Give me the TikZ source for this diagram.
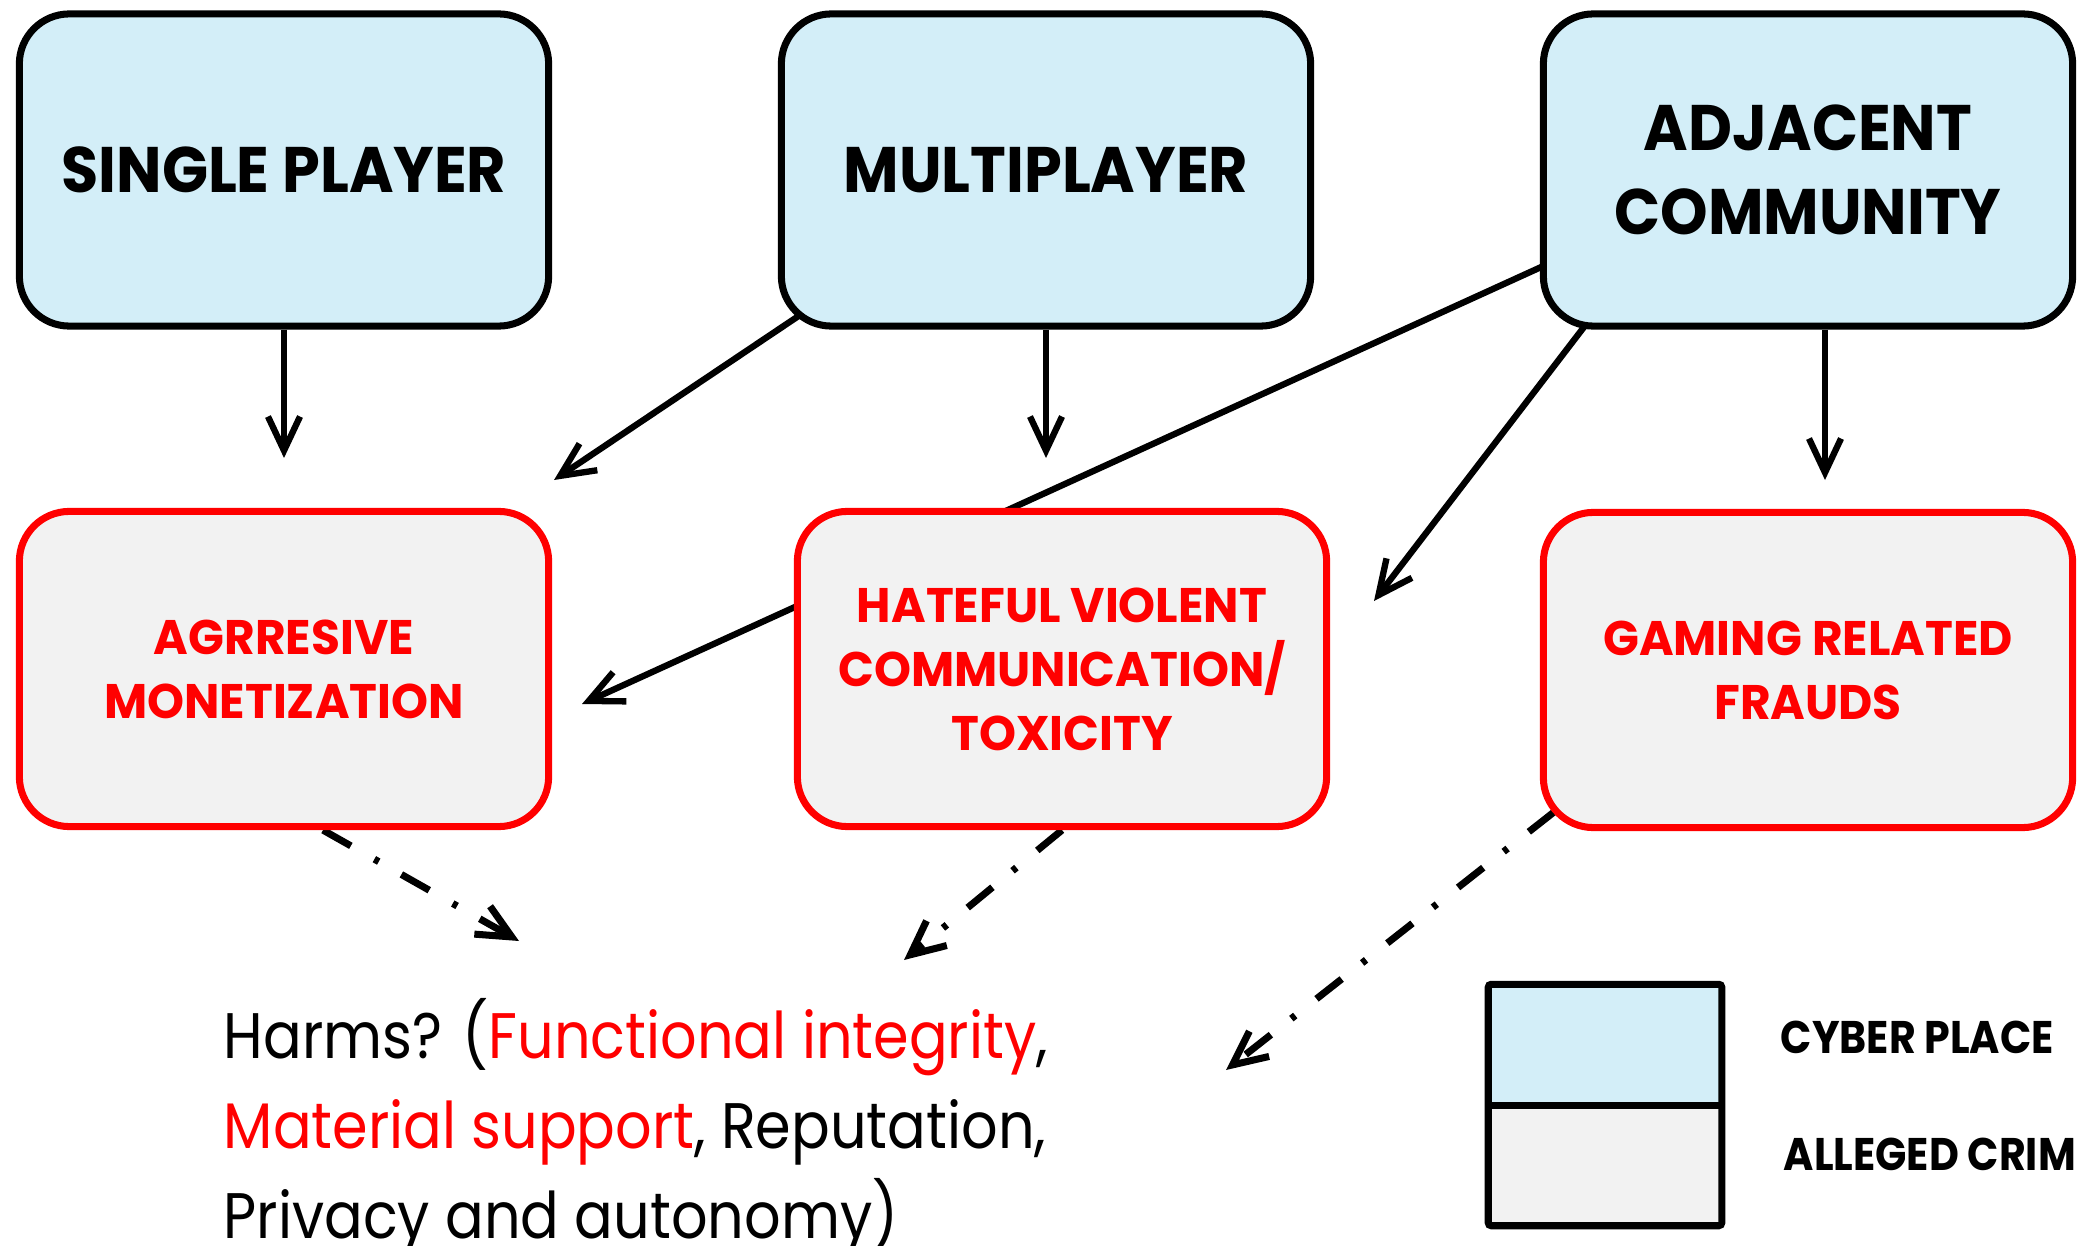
\documentclass[tikz,border=0pt]{standalone}
\usepackage{fontspec}
\setmainfont{Poppins}
\newfontfamily\boxfont[FakeStretch=0.94]{Poppins}
\newfontfamily\crimefont[FakeStretch=0.97]{Poppins}
\newfontfamily\legfont[FakeStretch=0.90]{Poppins}
\newfontfamily\harmfont[FakeStretch=0.89]{Poppins}
\usetikzlibrary{arrows.meta,backgrounds,calc}

\definecolor{cyberfill}{HTML}{D3EEF8}
\definecolor{crimefill}{HTML}{F2F2F2}
\definecolor{crimered}{HTML}{FF0000}

\begin{document}
\begin{tikzpicture}[x=0.01cm,y=-0.01cm,
  place/.style={draw=black, fill=cyberfill, line width=2pt, rounded corners=0.5cm,
    minimum width=5.29cm, minimum height=3.12cm, inner sep=0pt, align=center,
    font=\boxfont\bfseries\fontsize{18.3}{23.9}\selectfont},
  crime/.style={place, draw=crimered, fill=crimefill, text=crimered,
    minimum height=3.15cm, font=\crimefont\bfseries\fontsize{13.8}{18.2}\selectfont},
  link/.style={line width=1.8pt, -{Straight Barb[length=0.34cm,width=0.32cm]}},
  harm/.style={line width=2pt, dash pattern=on 0.32cm off 0.27cm on 0.05cm off 0.26cm,
    -{Straight Barb[length=0.34cm,width=0.32cm]}},
  legtext/.style={anchor=base west, inner sep=0pt, font=\legfont\bfseries\fontsize{13}{16}\selectfont}]

\useasboundingbox (0,0) rectangle (2085,1246);

% cyber places
\node[place] (sp)  at (284,170)  {SINGLE PLAYER};
\node[place] (mp)  at (1046,170) {MULTIPLAYER};
\node[place] (adj) at (1808,170) {ADJACENT\\COMMUNITY};

% alleged crimes
\node[crime] (agr)  at (284,669)  {AGRRESIVE\\MONETIZATION};
\node[crime] (hate) at (1062,669) {HATEFUL VIOLENT\\COMMUNICATION/\\TOXICITY};
\node[crime] (gam)  at (1808,670) {GAMING RELATED\\FRAUDS};

% harms
\node[anchor=north west, inner sep=0pt, align=left,
  font=\harmfont\fontsize{18.3}{25.6}\selectfont] (harms) at (223,998)
  {Harms? (\textcolor{crimered}{Functional integrity},\\
   \textcolor{crimered}{Material support}, Reputation,\\
   Privacy and autonomy)};

% arrow tips
\coordinate (t1) at (284,458);
\coordinate (t2) at (554,480);
\coordinate (t3) at (1046,458);
\coordinate (t4) at (582,704);
\coordinate (t5) at (1374,601);
\coordinate (t6) at (1825,480);
\coordinate (h1) at (519,941);
\coordinate (h2) at (904,960);
\coordinate (h3) at (1226,1070);

\begin{scope}[on background layer]
  \fill[white] (0,0) rectangle (2085,1246);
  \draw[link] (sp.south) -- (t1);
  \draw[link] ($(mp.center)+(-149,80)$) -- (t2);
  \draw[link] (mp.south) -- (t3);
  \draw[link] ($(adj.center)+(-168,52)$) -- (t4);
  \draw[link] ($(adj.center)+(-188,110)$) -- (t5);
  \draw[link] (adj.south -| t6) -- (t6);
  \draw[harm] ($(agr.south)+(39,0)$) -- (h1);
  \draw[harm] (hate.south) -- (h2);
  \draw[harm] ($(gam.center)+(-254,142)$) -- (h3);
\end{scope}

% legend
\path[fill=cyberfill] (1489,985) rectangle (1721,1105);
\path[fill=crimefill] (1489,1105) rectangle (1721,1225);
\node[inner sep=0pt, minimum width=2.32cm, minimum height=1.2cm] (legcyber) at (1605,1045) {};
\node[inner sep=0pt, minimum width=2.32cm, minimum height=1.2cm] (legcrime) at (1605,1165) {};
\draw[line width=2pt, rounded corners=0.03cm] (legcyber.north west) rectangle (legcrime.south east);
\draw[line width=2pt] (legcyber.south west) -- (legcyber.south east);
\node[legtext] (cyberlabel) at (1780,1053) {CYBER PLACE};
\node[legtext] (crimelabel) at (1783,1170) {ALLEGED CRIM};

\end{tikzpicture}
\end{document}
